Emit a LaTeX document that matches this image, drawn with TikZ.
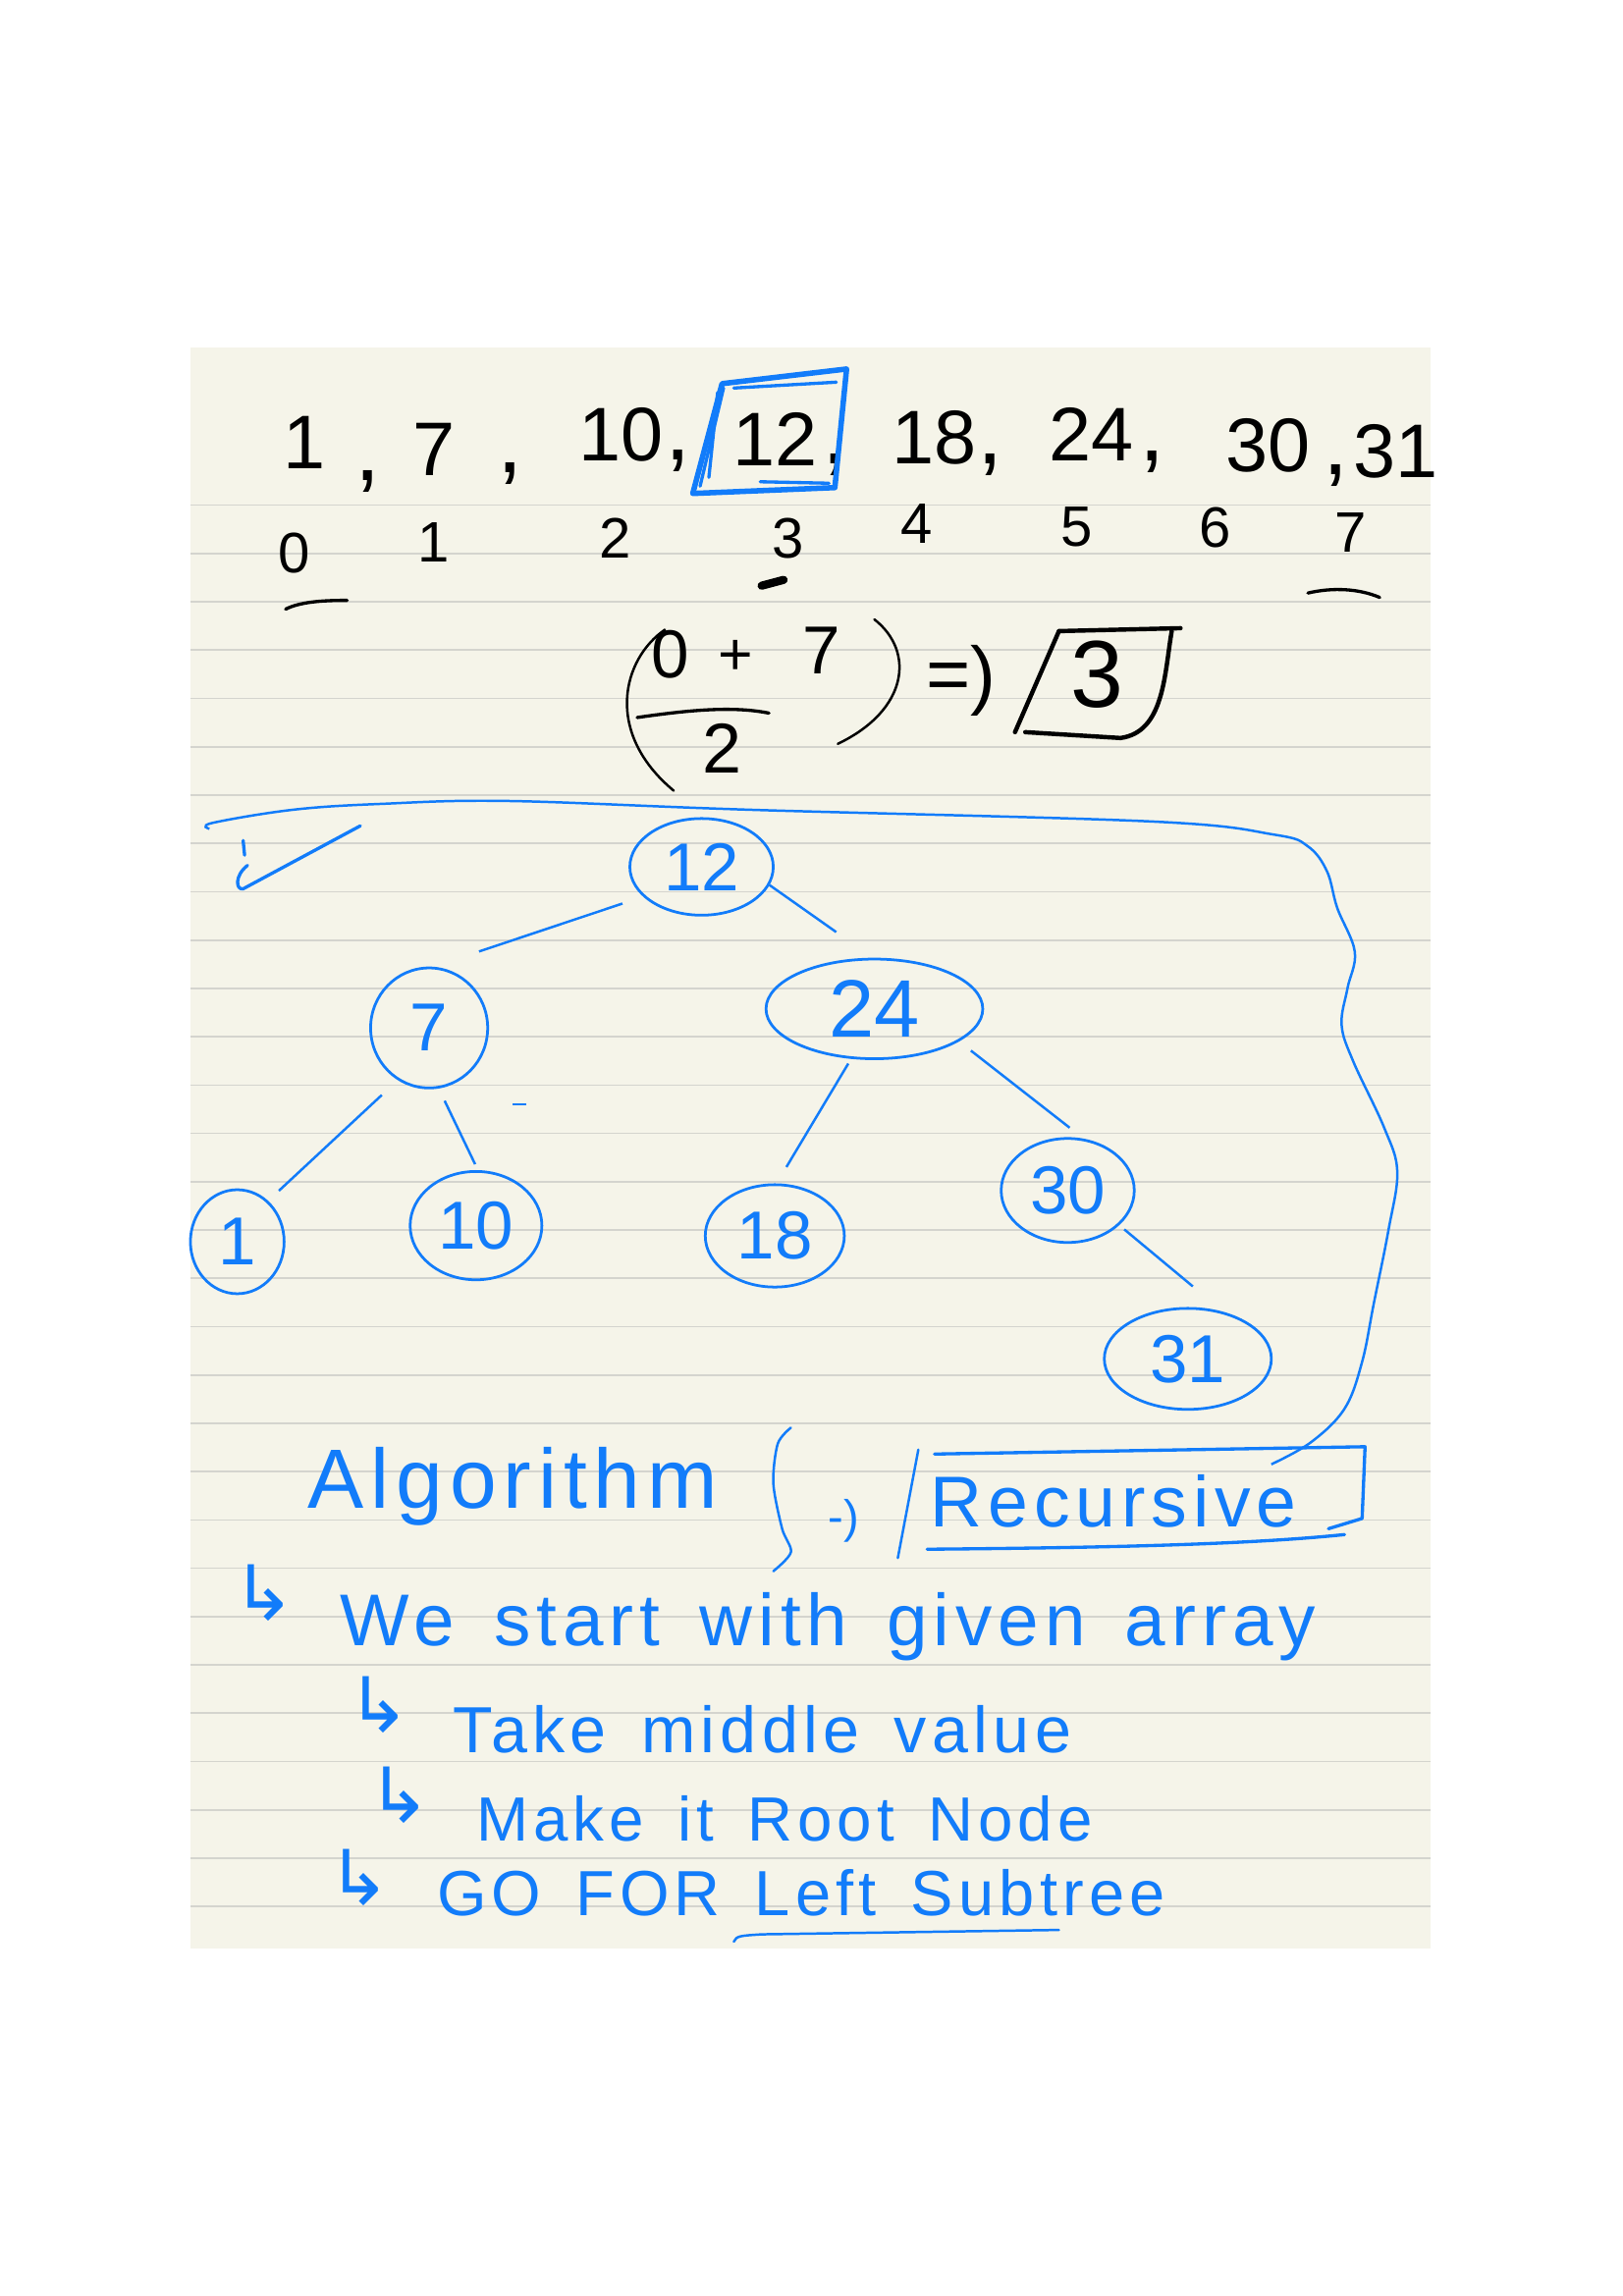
\documentclass[tikz,border=0pt]{standalone}
\usepackage{fontspec}
\setmainfont{Liberation Sans}
\newfontfamily\hand{Liberation Sans}[LetterSpace=8,WordSpace=1.5]
\newfontfamily\symfont{DejaVu Sans}
\usetikzlibrary{shapes.geometric}
\definecolor{ink}{RGB}{18,124,250}
\definecolor{paper}{RGB}{245,244,233}
\definecolor{rule}{RGB}{212,212,206}

\begin{document}
\begin{tikzpicture}[x=0.01895cm, y=-0.01895cm,
    num/.style={font=\fontsize{28}{28}\selectfont, inner sep=0pt, anchor=base},
    comma/.style={font=\fontsize{34}{34}\selectfont, inner sep=0pt, anchor=base},
    idx/.style={font=\fontsize{21}{21}\selectfont, inner sep=0pt, anchor=base},
    tnode/.style={draw=ink, ellipse, line width=1pt, inner sep=0pt, text=ink, font=\fontsize{25}{25}\selectfont},
    edge/.style={ink, line width=0.9pt},
    pen/.style={line width=1.2pt, line cap=round, line join=round},
    note/.style={text=ink, inner sep=0pt, anchor=base west},
    hook/.style={text=ink, inner sep=0pt, font=\symfont\fontsize{28}{28}\selectfont}]

        % Page
        \fill[white] (0,0) rectangle (1108,1568);
        \useasboundingbox (0,0) rectangle (1108,1568);
        \fill[paper] (130,237) rectangle (977,1331);
        \foreach \y in {345,378,...,1302}
            \draw[rule, line width=0.6pt] (130,\y) -- (977,\y);

        % Sorted array
        \node[num] (a1) at (208,320) {1};
        \node[comma] (c1) at (251,328) {,};
        \node[num] (a7) at (296,325) {7};
        \node[comma] (c2) at (348,323) {,};
        \node[num] (a10) at (424,315) {10};
        \node[comma] (c3) at (463,314) {,};
        \node[num] (a12) at (529,318) {12};
        \node[comma] (c4) at (570,317) {,};
        \node[num] (a18) at (638,317) {18};
        \node[comma] (c5) at (676,317) {,};
        \node[num] (a24) at (745,315) {24};
        \node[comma] (c6) at (787,315) {,};
        \node[num] (a30) at (866,322) {30};
        \node[comma] (c7) at (912,324) {,};
        \node[num] (a31) at (953,326) {31};

        % Box round the middle value
        \draw[ink, pen, line width=2pt] (473,337) -- (493,262) -- (578,252) -- (570,333) -- cycle;
        \draw[ink, pen] (501,265) -- (571,261);
        \draw[ink, pen] (478,332) -- (494,265);
        \draw[ink, pen] (484,326) -- (490,268);
        \draw[ink, pen] (519,329) -- (566,330);

        % Indices
        \node[idx] (i0) at (201,391) {0};
        \node[idx] (i1) at (296,384) {1};
        \node[idx] (i2) at (420,381) {2};
        \node[idx] (i3) at (538,381) {3};
        \node[idx] (i4) at (626,371) {4};
        \node[idx] (i5) at (735,373) {5};
        \node[idx] (i6) at (830,374) {6};
        \node[idx] (i7) at (922,377) {7};
        \draw[pen] (195,416) .. controls (205,411) and (220,410) .. (237,410);
        \draw[pen, line width=3pt] (520,400) -- (535,396);
        \draw[pen] (893,405) .. controls (910,401) and (928,402) .. (942,408);

        % Middle index
        \draw[pen, line width=0.9pt] (454,430) .. controls (425,450) and (412,500) .. (460,540);
        \node[num, font=\fontsize{25}{25}\selectfont] (f0) at (458,463) {0};
        \node[num, font=\fontsize{22}{22}\selectfont] (fp) at (502,461) {+};
        \node[num, font=\fontsize{25}{25}\selectfont] (f7) at (561,460) {7};
        \draw[pen] (435,490) .. controls (470,485) and (500,482) .. (525,487);
        \node[num, font=\fontsize{26}{26}\selectfont] (f2) at (493,528) {2};
        \draw[pen, line width=0.9pt] (597,423) .. controls (625,445) and (620,485) .. (572,508);
        \node[num, font=\fontsize{28}{28}\selectfont] (farrow) at (656,478) {=)};
        \node[num, font=\fontsize{35}{35}\selectfont] (mid) at (749,483) {3};
        \draw[pen, line width=1.6pt] (723,431) -- (693,500);
        \draw[pen, line width=1.6pt] (723,431) -- (806,429);
        \draw[pen, line width=1.6pt] (800,431) .. controls (795,460) and (795,500) .. (765,504) -- (700,500);

        % Tree
        \node[tnode, minimum width=52.8pt, minimum height=35.6pt] (n12) at (479,592) {12};
        \node[tnode, minimum width=43.1pt, minimum height=44.2pt] (n7) at (293,702) {7};
        \node[tnode, minimum width=79.8pt, minimum height=36.7pt, font=\fontsize{30}{30}\selectfont] (n24) at (597,689) {24};
        \node[tnode, minimum width=34.5pt, minimum height=38.3pt] (n1) at (162,848) {1};
        \node[tnode, minimum width=48.5pt, minimum height=39.9pt] (n10) at (325,837) {10};
        \node[tnode, minimum width=51.2pt, minimum height=37.7pt] (n18) at (529,844) {18};
        \node[tnode, minimum width=49pt, minimum height=38.3pt] (n30) at (729,813) {30};
        \node[tnode, minimum width=61.5pt, minimum height=37.2pt] (n31) at (811,928) {31};

        \draw[edge, shorten <=8pt, shorten >=17.7pt] (n12.207) -- (n7.86);
        \draw[edge, shorten >=16.4pt] (n12.-15) -- (n24.92);
        \draw[edge, shorten <=8pt, shorten >=5.4pt] (n7.239) -- (n1.53);
        \draw[edge, shorten <=5pt, shorten >=2.4pt] (n7.-81) -- (n10.88);
        \draw[edge, shorten <=2pt, shorten >=7pt] (n24.-115) -- (n18.88);
        \draw[edge, shorten <=5.5pt, shorten >=6.5pt] (n24.-21) -- (n30.73);
        \draw[edge, shorten <=2.4pt, shorten >=14.6pt] (n30.-34) -- (n31.53);
        \draw[edge] (350,754) -- (359,754);

        % Tick and the loop round the tree
        \draw[ink, pen] (166,574) -- (167,584);
        \draw[ink, pen] (169,591) .. controls (160,598) and (161,608) .. (166,607) -- (246,564);
        \draw[ink, line width=0.9pt] plot[smooth, tension=0.6] coordinates {(143,566) (145,562) (200,553) (260,549) (347,547)
            (512,553) (786,561) (870,570) (893,578) (906,595) (913,620) (925,650) (920,675)
            (916,700) (924,725) (945,770) (954,800) (948,840) (938,890) (930,930) (918,962) (895,985) (868,1000)};

        % Algorithm
        \node[note, font=\hand\fontsize{31}{31}\selectfont] (algo) at (210,1030) {Algorithm};
        \draw[ink, pen, line width=0.9pt] plot[smooth] coordinates {(540,975) (531,986) (528,1013) (534,1044) (540,1060) (528,1073)};
        \node[num, text=ink, font=\fontsize{17}{17}\selectfont] (rarrow) at (576,1047) {-)};
        \draw[ink, pen, line width=0.9pt] (627,990) -- (613,1064);
        \node[note, font=\hand\fontsize{26.5}{26.5}\selectfont] (rec) at (635,1043) {Recursive};
        \draw[ink, pen] (638,993) -- (932,988) -- (930,1037) -- (907,1044);
        \draw[ink, pen] (633,1058) .. controls (750,1057) and (850,1055) .. (918,1048);

        % Steps
        \node[hook] (h1) at (180,1088) {↳};
        \node[note, font=\hand\fontsize{27}{27}\selectfont] (s1) at (232,1124) {We start with given array};
        \node[hook] (h2) at (259,1164) {↳};
        \node[note, font=\hand\fontsize{24}{24}\selectfont] (s2) at (309,1197) {Take middle value};
        \node[hook] (h3) at (273,1226) {↳};
        \node[note, font=\hand\fontsize{23}{23}\selectfont] (s3) at (325,1257) {Make it Root Node};
        \node[hook] (h4) at (245,1282) {↳};
        \node[note, font=\hand\fontsize{23.5}{23.5}\selectfont] (s4) at (298,1308) {GO FOR Left Subtree};
        \draw[ink, pen, line width=0.9pt] (501,1326) .. controls (503,1322) and (505,1322) .. (520,1321) -- (723,1318);
    \end{tikzpicture}
\end{document}
